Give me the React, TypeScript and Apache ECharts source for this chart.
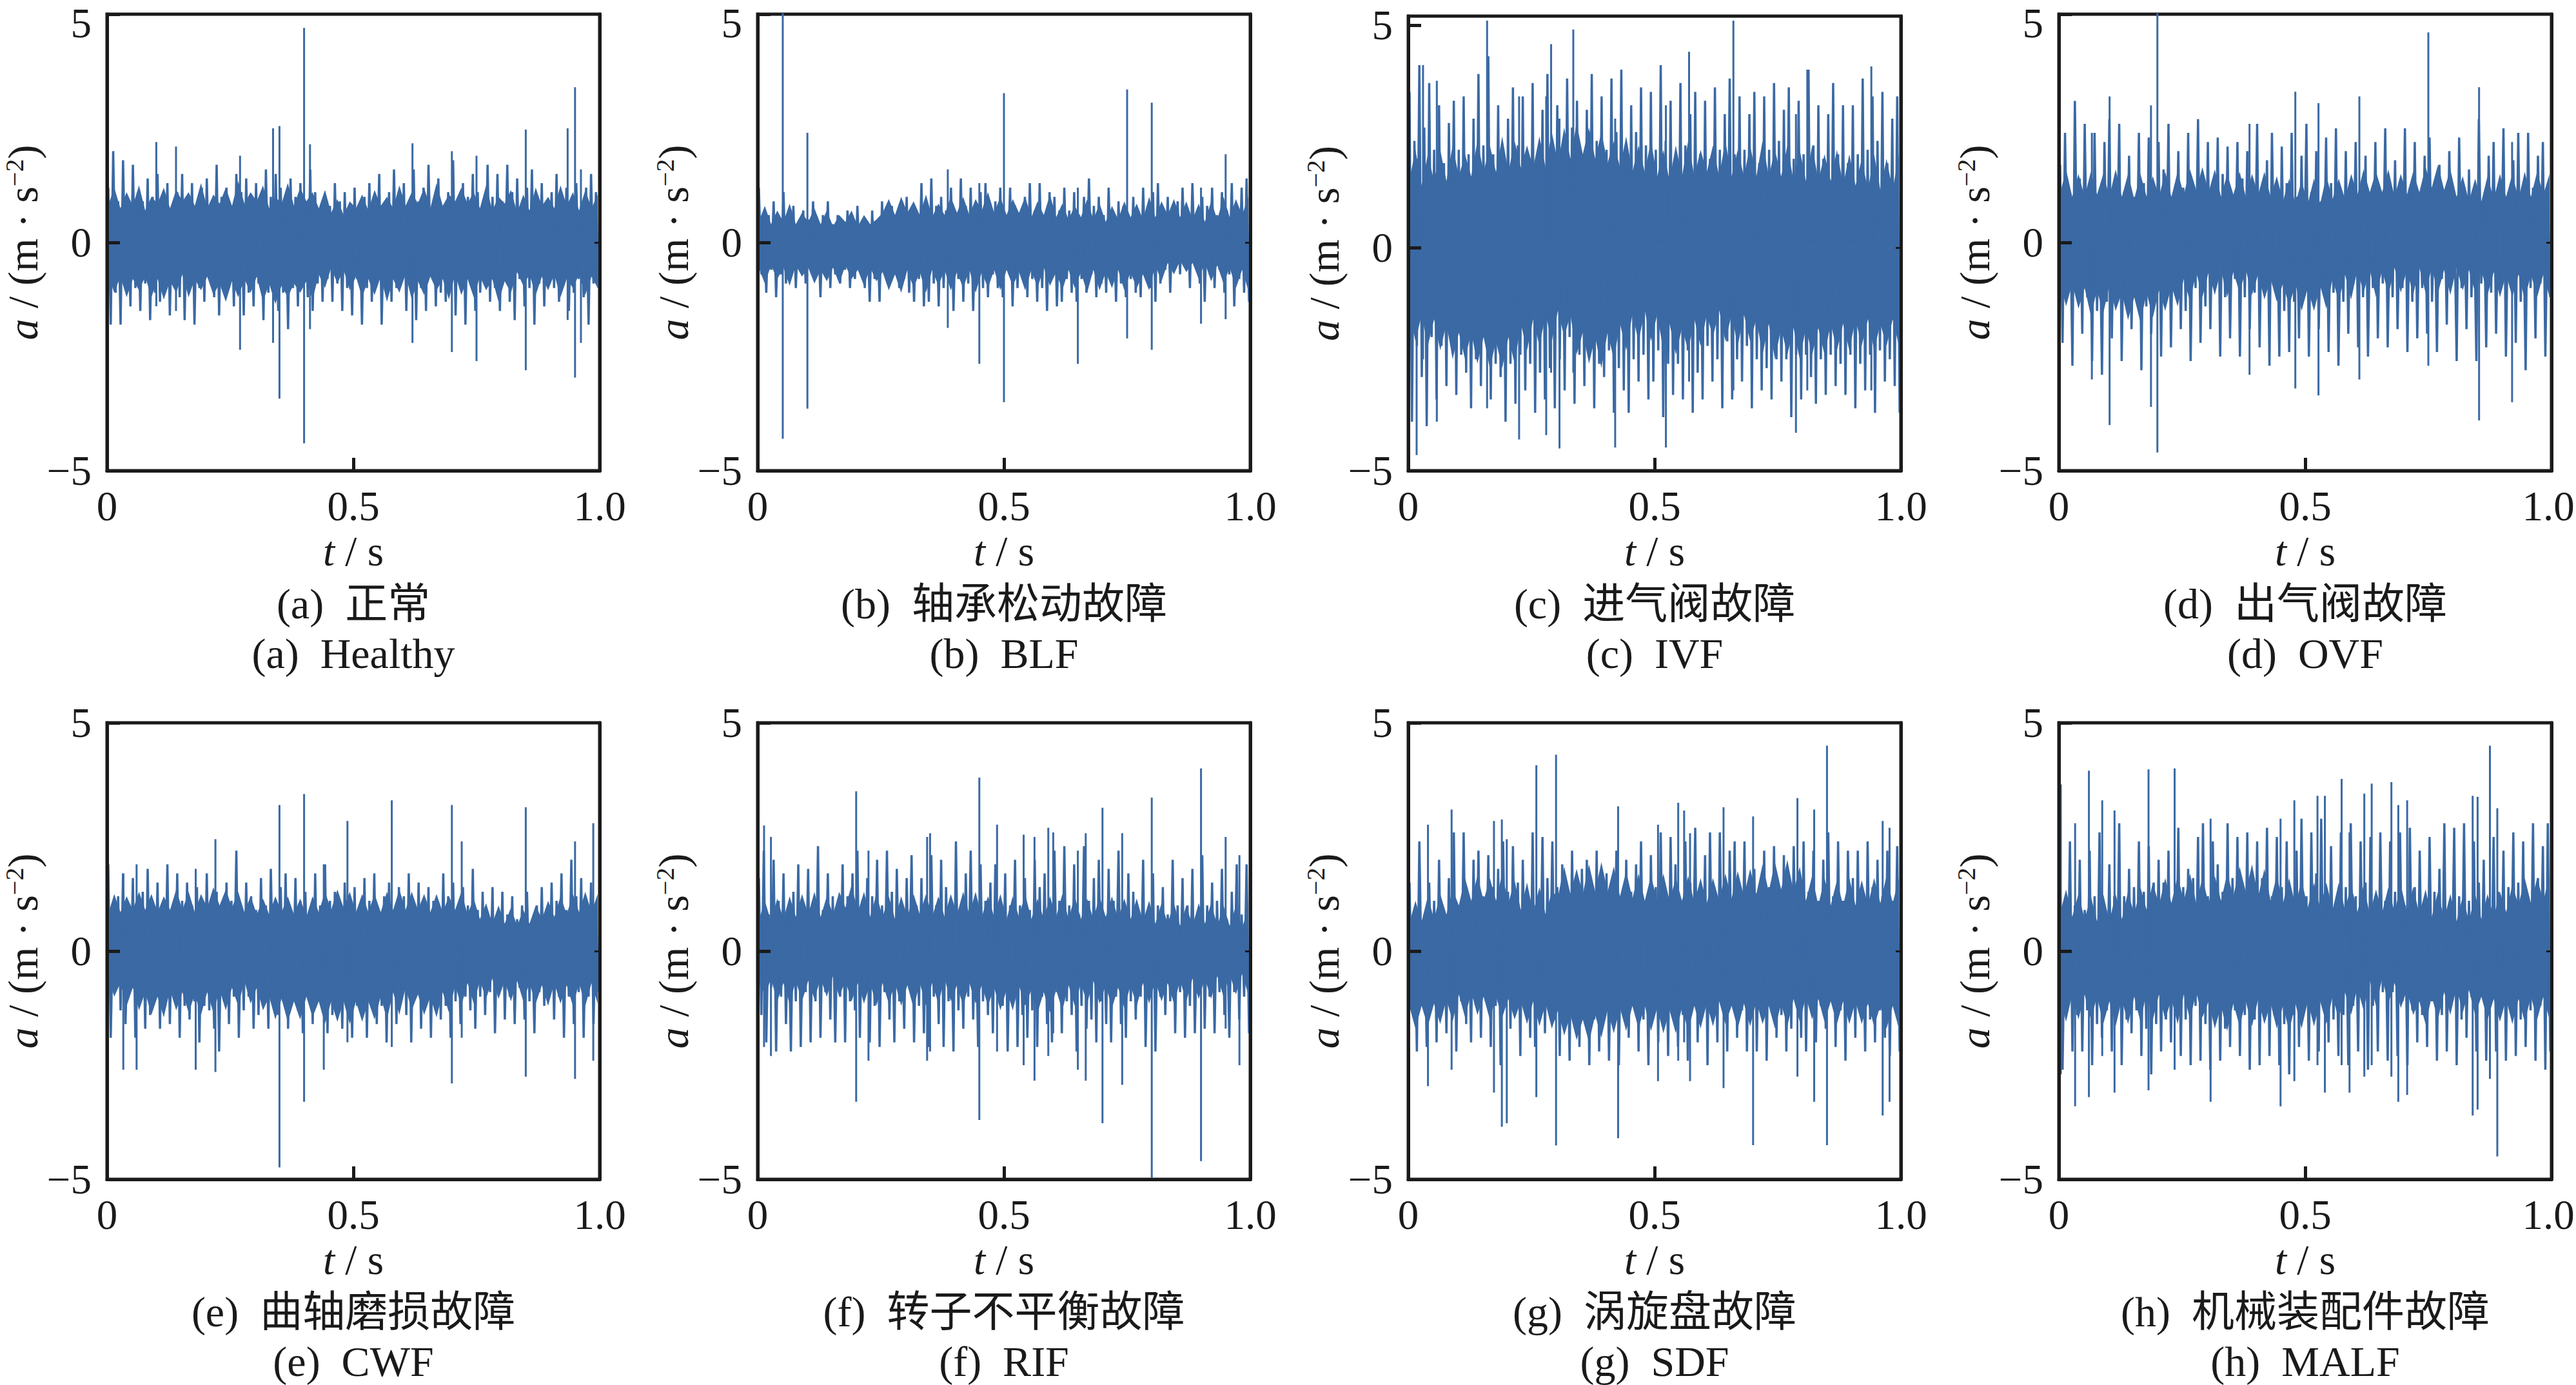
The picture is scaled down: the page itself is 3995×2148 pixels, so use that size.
import React, { useEffect, useRef } from "react";
import * as echarts from "echarts";

const BLUE = "#3a69a4";
const INK = "#1a1a1a";
const LATIN = "Liberation Serif";
const CJK = "Noto Sans CJK SC";

const titlesZh = ["(a)  正常", "(b)  轴承松动故障", "(c)  进气阀故障", "(d)  出气阀故障", "(e)  曲轴磨损故障", "(f)  转子不平衡故障", "(g)  涡旋盘故障", "(h)  机械装配件故障"];
const titlesEn = ["(a)  Healthy", "(b)  BLF", "(c)  IVF", "(d)  OVF", "(e)  CWF", "(f)  RIF", "(g)  SDF", "(h)  MALF"];
const xTicks = [0, 0.5, 1];
const yTicks = [-5, 0, 5];

// upper and lower envelope of each vibration trace, read left to right (m/s^2)
const aHi = [1.2,2.0,0.9,1.8,0.8,1.7,1.1,0.9,1.4,1.0,1.5,0.9,1.3,0.8,1.1,1.5,1.0,1.3,0.8,1.2,1.4,0.9,1.7,1.0,1.2,0.8,1.5,1.1,1.4,0.8,1.3,0.9,1.6,1.0,1.5,1.2,0.8,1.4,1.0,1.3,0.9,1.6,1.1,0.7,1.0,0.8,1.3,0.9,1.1,0.7,1.2,0.8,1.0,1.3,0.8,1.5,0.7,1.1,1.6,1.0,1.3,0.8,1.6,0.9,1.2,1.7,0.9,1.4,0.8,1.1,1.8,0.9,1.3,1.0,1.5,1.1,0.8,1.7,1.0,1.5,0.9,1.7,1.1,1.4,0.9,1.2,1.6,1.0,1.3,0.8,1.1,1.5,0.8,1.2,0.9,1.3,0.8,1.2,1.5,1.1];
const aLo = [-1.8,-1.1,-1.8,-0.9,-1.4,-1.0,-1.5,-0.9,-1.7,-1.1,-1.3,-0.8,-1.6,-1.0,-1.2,-1.7,-0.9,-1.8,-1.0,-1.3,-0.8,-1.2,-1.6,-0.9,-1.0,-1.4,-0.8,-1.6,-1.1,-1.4,-0.9,-1.7,-1.1,-1.0,-1.5,-1.1,-1.9,-1.0,-1.4,-0.8,-1.2,-1.5,-0.9,-1.3,-0.8,-1.3,-0.9,-1.5,-1.0,-1.6,-0.8,-1.8,-1.0,-1.3,-0.8,-1.8,-0.9,-1.3,-1.0,-0.8,-1.5,-0.9,-1.7,-1.0,-1.5,-0.7,-1.4,-1.1,-1.3,-0.8,-1.6,-1.0,-1.8,-0.8,-1.5,-1.1,-0.9,-1.3,-1.0,-1.5,-0.7,-1.3,-1.7,-0.8,-1.4,-1.0,-1.8,-0.9,-1.4,-0.7,-1.0,-1.3,-0.8,-1.5,-1.1,-0.8,-1.2,-1.8,-0.9,-1.0];
const aCoreHi = [0.8,1.2,0.75,1.1,0.8,1.25,0.7,1.0,0.85,1.2,0.75,1.15,0.9,1.1,0.8,1.3,0.75,1.05,0.85,1.2,0.8,1.35,0.85,1.1,0.9,1.25,0.75,1.0,0.85,1.3,0.8,1.2,0.9,1.1,0.75,1.15,0.65,0.95,0.6,0.9,0.75,1.05,0.7,1.15,0.8,1.0,0.75,1.25,0.8,1.1,0.85,1.2,0.75,1.3,0.8,1.05,0.9,1.2,0.85,1.1,0.75,1.25,0.7,1.0,0.85,1.15,0.65,1.05,0.7,1.2,0.8,1.0,0.75,1.25,0.8,1.1,0.7,1.15,0.75,1.05];
const aCoreLo = [-0.7,-1.1,-0.75,-1.2,-0.8,-1.05,-0.75,-1.2,-0.8,-1.25,-0.85,-1.1,-0.7,-1.2,-0.8,-1.05,-0.75,-1.15,-0.9,-1.3,-0.85,-1.2,-0.8,-1.1,-0.75,-1.3,-0.9,-1.35,-0.95,-1.2,-0.9,-1.1,-0.85,-1.25,-0.7,-1.0,-0.55,-0.9,-0.6,-1.05,-0.75,-1.2,-0.8,-1.15,-0.75,-1.3,-0.8,-1.1,-0.7,-1.25,-0.85,-1.15,-0.75,-1.05,-0.8,-1.25,-0.7,-1.15,-0.8,-1.2,-0.75,-1.05,-0.8,-1.3,-0.85,-1.1,-0.65,-0.95,-0.7,-1.15,-0.75,-1.05,-0.7,-1.2,-0.8,-1.0,-0.7,-1.15,-0.75,-1.0];
const aSpikes = [[0.1,2.2,-1.4],[0.14,2.1,-1.5],[0.27,1.9,-2.35],[0.337,2.5,-2.2],[0.35,2.55,-3.42],[0.4,4.7,-4.4],[0.412,2.15,-1.9],[0.62,2.17,-2.2],[0.7,2.0,-2.4],[0.75,1.9,-2.6],[0.85,2.47,-2.8],[0.935,2.5,-1.7],[0.95,3.4,-2.96],[0.962,1.6,-2.2]];

const bHi = [1.2,0.5,0.6,0.9,0.4,1.1,0.5,0.8,0.4,0.7,0.5,0.9,0.4,0.6,0.9,0.4,0.6,0.4,0.7,0.4,0.8,0.5,0.4,0.7,0.4,0.9,0.5,0.8,0.4,0.7,1.0,0.5,0.6,1.3,0.8,1.4,0.8,1.0,0.7,1.2,0.6,1.4,0.8,1.2,0.6,1.1,1.3,0.7,0.9,1.2,0.6,1.2,0.8,0.6,1.0,1.3,0.7,1.3,0.6,1.1,1.0,0.7,1.2,0.7,1.1,0.6,1.0,1.4,0.8,1.0,0.6,1.2,0.6,0.9,0.8,0.6,1.0,0.7,1.2,0.6,1.1,1.3,0.7,1.0,0.6,0.9,1.2,0.7,1.3,0.6,1.0,0.8,1.2,0.6,1.1,0.7,1.3,0.8,1.2,1.4];
const bLo = [-0.7,-1.1,-0.6,-1.2,-0.7,-0.9,-0.5,-1.0,-0.6,-0.9,-0.6,-0.7,-1.2,-0.6,-1.0,-0.7,-0.9,-0.6,-1.0,-0.8,-0.6,-1.0,-1.3,-0.8,-1.3,-0.6,-0.9,-0.7,-1.0,-0.8,-1.1,-1.3,-0.8,-1.4,-1.3,-0.9,-1.4,-1.0,-0.7,-1.5,-0.8,-1.3,-0.9,-1.5,-0.7,-1.0,-1.2,-0.7,-1.0,-1.2,-0.6,-1.4,-1.0,-0.7,-1.2,-0.8,-1.3,-1.0,-1.5,-0.7,-1.4,-1.3,-0.8,-1.1,-1.3,-0.8,-1.1,-0.7,-1.2,-0.9,-1.1,-0.8,-1.3,-0.9,-1.2,-0.8,-1.1,-1.2,-0.7,-1.0,-1.3,-0.9,-0.6,-1.1,-0.5,-0.7,-0.4,-1.0,-0.5,-0.9,-1.3,-0.7,-1.0,-0.6,-1.1,-0.7,-1.4,-0.8,-1.1,-1.3];
const bCoreHi = [0.45,0.8,0.4,0.7,0.45,0.85,0.4,0.65,0.45,0.75,0.4,0.7,0.35,0.6,0.45,0.7,0.35,0.6,0.4,0.5,0.65,0.95,0.6,1.0,0.65,0.9,0.6,1.05,0.55,0.85,0.6,1.0,0.65,1.0,0.6,0.95,0.7,1.1,0.65,1.0,0.6,0.95,0.65,1.0,0.55,0.9,0.6,1.05,0.55,0.85,0.5,0.8,0.55,0.95,0.5,0.85,0.45,0.8,0.5,0.9,0.55,0.85,0.5,1.0,0.55,0.9,0.6,0.95,0.55,0.9,0.5,0.85,0.45,0.9,0.5,1.0,0.55,0.95,0.6,1.0];
const bCoreLo = [-0.55,-0.9,-0.5,-0.8,-0.55,-0.95,-0.5,-0.75,-0.55,-0.9,-0.6,-0.85,-0.55,-0.9,-0.5,-0.8,-0.6,-0.95,-0.55,-0.85,-0.65,-1.05,-0.7,-1.1,-0.6,-1.0,-0.65,-1.1,-0.6,-0.95,-0.6,-1.05,-0.65,-1.0,-0.6,-1.1,-0.65,-1.0,-0.6,-1.05,-0.6,-0.95,-0.65,-1.05,-0.6,-1.0,-0.55,-0.95,-0.65,-1.05,-0.6,-1.0,-0.65,-1.1,-0.6,-1.05,-0.65,-1.0,-0.6,-1.05,-0.65,-1.0,-0.7,-1.05,-0.5,-0.85,-0.45,-0.7,-0.4,-0.65,-0.45,-0.8,-0.45,-0.85,-0.5,-0.9,-0.55,-1.0,-0.6,-1.05];
const bSpikes = [[0.051,5.2,-4.3],[0.101,2.4,-3.64],[0.386,1.6,-1.87],[0.45,1.3,-2.66],[0.5,3.27,-3.5],[0.65,1.2,-2.66],[0.75,3.35,-2.1],[0.8,3.06,-2.35],[0.9,1.2,-1.78],[0.95,1.93,-1.68]];

const cHi = [3.5,2.4,4.1,2.7,3.7,2.2,3.2,1.9,2.8,3.3,2.2,3.4,2.1,2.9,3.9,2.3,4.3,2.1,3.2,1.9,2.9,3.6,2.3,3.4,2.1,3.7,2.0,3.1,3.9,2.4,3.2,2.2,3.8,2.7,3.3,2.1,3.1,3.9,2.4,3.4,2.2,3.8,2.6,4.0,2.3,3.2,2.6,3.6,2.3,3.5,2.2,4.1,2.4,3.3,2.1,3.7,2.3,3.0,3.5,2.1,3.3,2.0,3.6,2.2,3.0,3.8,2.1,3.4,2.2,3.0,3.5,1.9,3.4,2.2,3.7,2.4,3.1,3.6,2.0,3.3,2.1,4.0,2.3,3.2,2.0,3.0,3.7,2.1,3.2,1.9,3.2,2.1,3.8,2.2,3.4,2.4,3.5,1.9,2.9,3.4];
const cLo = [-3.9,-2.2,-2.9,-4.0,-2.0,-3.4,-2.2,-3.1,-2.0,-3.3,-2.4,-2.8,-3.6,-2.5,-3.1,-2.0,-3.4,-2.6,-2.9,-3.9,-2.6,-3.5,-2.4,-3.2,-2.6,-3.7,-2.8,-3.4,-2.7,-3.6,-2.5,-3.2,-2.0,-3.5,-2.4,-3.1,-2.4,-3.6,-2.6,-2.9,-2.3,-3.7,-2.7,-3.2,-3.7,-2.5,-3.0,-2.4,-3.4,-3.0,-2.3,-3.8,-2.6,-3.3,-2.6,-3.4,-2.3,-3.7,-2.8,-3.4,-2.2,-3.0,-2.5,-3.6,-2.1,-3.4,-2.5,-3.0,-2.2,-3.6,-2.5,-3.2,-2.7,-3.4,-2.5,-3.0,-2.5,-3.8,-2.4,-3.4,-2.4,-2.9,-3.5,-2.5,-3.3,-2.4,-3.1,-2.6,-3.3,-2.4,-3.6,-2.6,-3.2,-2.4,-3.7,-2.3,-3.0,-2.5,-3.1,-3.7];
const cCoreHi = [1.5,2.2,1.4,2.1,1.5,2.2,1.5,2.3,1.6,2.1,1.6,2.4,1.7,2.3,1.7,2.5,1.7,2.4,1.8,2.3,1.8,2.5,1.8,2.6,1.9,2.7,2.0,2.8,2.1,2.7,2.0,2.6,1.9,2.4,1.8,2.5,1.7,2.3,1.7,2.4,1.6,2.2,1.5,2.3,1.6,2.4,1.6,2.2,1.7,2.3,1.6,2.4,1.6,2.2,1.6,2.3,1.6,2.4,1.6,2.2,1.6,2.3,1.5,2.2,1.5,2.3,1.5,2.1,1.5,2.2,1.4,2.1,1.4,2.0,1.3,2.1,1.3,2.0,1.3,2.1];
const cCoreLo = [-1.4,-2.1,-1.5,-2.2,-1.6,-2.3,-1.7,-2.5,-1.9,-2.5,-1.9,-2.6,-2.0,-2.7,-2.1,-2.7,-2.0,-2.6,-1.7,-2.3,-1.6,-2.2,-1.5,-2.1,-1.4,-2.0,-1.5,-2.4,-1.9,-2.6,-2.0,-2.7,-1.9,-2.5,-1.7,-2.3,-1.5,-2.1,-1.4,-2.1,-1.5,-2.3,-1.7,-2.4,-1.8,-2.3,-1.6,-2.2,-1.5,-2.0,-1.4,-2.1,-1.5,-2.2,-1.5,-2.1,-1.6,-2.4,-1.7,-2.5,-1.8,-2.4,-1.8,-2.5,-1.8,-2.4,-1.8,-2.4,-1.7,-2.3,-1.7,-2.3,-1.6,-2.2,-1.6,-2.3,-1.7,-2.2,-1.6,-2.2];
const cSpikes = [[0.017,2.0,-4.65],[0.03,4.1,-2.5],[0.058,3.75,-3.9],[0.16,5.1,-3.6],[0.225,3.4,-4.3],[0.28,3.4,-4.2],[0.29,4.57,-2.8],[0.307,2.9,-4.5],[0.335,4.9,-2.8],[0.42,2.9,-4.48],[0.523,3.2,-4.48],[0.57,4.4,-3.0],[0.66,5.1,-3.2],[0.787,3.0,-4.15],[0.81,4.0,-3.2],[0.94,4.07,-3.2]];

const dHi = [1.7,2.4,1.1,3.1,1.4,2.6,1.2,2.4,1.0,2.2,2.7,1.2,2.6,1.1,1.9,1.0,2.4,1.3,2.3,1.1,2.2,1.6,2.6,1.0,2.0,1.2,2.4,1.3,2.7,1.1,2.2,1.0,2.3,1.5,2.1,0.9,2.2,1.4,2.0,1.0,2.6,1.1,1.8,2.4,1.0,2.1,1.3,2.4,1.0,1.9,2.6,1.1,2.0,0.9,2.3,1.3,2.5,0.8,2.0,1.0,2.2,1.2,1.9,0.9,2.2,1.1,2.5,1.0,1.8,0.9,2.5,1.2,2.2,1.0,1.9,2.3,0.9,1.7,1.1,2.0,0.8,2.3,1.0,1.6,0.9,2.7,1.0,1.9,2.2,0.9,2.5,1.1,1.8,2.4,0.9,2.4,1.2,1.9,2.2,1.1];
const dLo = [-2.2,-1.0,-2.7,-1.2,-2.0,-1.2,-2.6,-1.5,-2.9,-1.3,-2.1,-1.0,-2.6,-1.3,-1.9,-1.1,-2.8,-1.4,-2.0,-1.3,-2.5,-1.2,-2.3,-0.9,-1.9,-1.5,-2.6,-1.0,-2.2,-1.4,-1.9,-0.9,-2.5,-1.2,-2.1,-0.8,-2.5,-1.2,-1.9,-1.1,-2.3,-1.0,-2.7,-0.9,-2.5,-1.5,-2.4,-1.3,-2.1,-1.0,-2.5,-1.4,-1.9,-1.1,-2.4,-1.1,-2.7,-1.3,-2.0,-0.9,-2.3,-1.2,-2.5,-1.0,-2.1,-0.9,-2.3,-1.2,-1.9,-1.0,-2.4,-1.3,-2.1,-1.0,-2.0,-1.3,-2.4,-0.8,-1.8,-0.8,-2.6,-1.0,-1.9,-1.2,-2.6,-0.9,-2.3,-1.1,-2.0,-0.9,-2.5,-1.0,-2.2,-1.3,-2.8,-1.0,-2.1,-0.9,-2.5,-1.2];
const dCoreHi = [1.05,1.6,1.0,1.5,1.0,1.55,1.05,1.5,1.0,1.6,1.0,1.5,0.95,1.5,1.0,1.45,1.0,1.55,1.0,1.55,1.05,1.6,1.15,1.65,1.1,1.6,1.0,1.5,1.05,1.55,1.0,1.5,1.05,1.55,1.0,1.45,0.9,1.4,0.85,1.35,0.85,1.4,0.85,1.45,0.95,1.4,0.95,1.5,1.05,1.6,1.1,1.55,1.1,1.6,1.0,1.5,1.05,1.55,1.1,1.65,1.2,1.7,1.15,1.6,1.0,1.45,0.9,1.4,0.9,1.45,0.95,1.5,1.0,1.5,0.95,1.55,1.0,1.55,1.05,1.5];
const dCoreLo = [-0.85,-1.4,-0.9,-1.45,-1.0,-1.6,-1.05,-1.55,-0.95,-1.5,-1.1,-1.7,-1.2,-1.75,-1.1,-1.65,-1.05,-1.5,-0.95,-1.4,-0.8,-1.3,-0.65,-1.2,-0.65,-1.15,-0.6,-1.2,-0.65,-1.1,-0.6,-1.15,-0.7,-1.25,-0.8,-1.3,-0.9,-1.4,-0.9,-1.5,-1.0,-1.5,-0.95,-1.45,-0.8,-1.3,-0.7,-1.25,-0.6,-1.1,-0.6,-1.2,-0.6,-1.15,-0.55,-1.1,-0.6,-1.15,-0.55,-1.1,-0.55,-1.1,-0.6,-1.15,-0.55,-1.05,-0.6,-1.1,-0.6,-1.15,-0.65,-1.2,-0.7,-1.2,-0.7,-1.25,-0.7,-1.2,-0.7,-1.2];
const dSpikes = [[0.067,2.4,-3.0],[0.103,3.2,-4.0],[0.187,3.0,-3.6],[0.2,5.2,-4.6],[0.387,2.6,-2.9],[0.48,3.3,-3.2],[0.527,3.05,-3.35],[0.61,3.2,-3.0],[0.75,4.6,-2.7],[0.853,3.4,-3.9],[0.92,2.2,-3.5]];

const eHi = [1.9,0.9,1.2,1.7,0.7,1.6,1.0,1.3,1.8,0.8,1.5,0.9,1.9,0.8,1.7,1.1,1.5,1.0,1.4,0.9,1.7,1.0,1.3,0.8,1.5,1.1,2.2,0.9,1.5,1.2,0.9,1.6,1.0,1.8,1.1,1.4,1.7,0.9,1.6,1.1,1.3,0.8,1.7,1.0,1.9,1.1,1.3,0.9,1.5,1.0,1.4,0.8,1.6,1.1,1.7,0.8,1.2,1.5,0.8,1.4,1.2,1.7,0.9,1.5,1.0,1.4,1.1,0.8,1.7,1.2,1.5,0.9,1.4,1.0,1.8,0.9,1.3,0.8,1.4,0.7,1.3,0.8,1.2,0.7,1.0,1.3,0.6,1.0,1.4,0.9,1.5,1.1,1.7,0.9,2.0,1.2,1.6,0.9,1.5,1.0];
const eLo = [-1.9,-0.7,-1.3,-1.6,-0.8,-1.9,-1.0,-1.7,-1.4,-0.9,-1.7,-1.0,-1.6,-1.1,-1.9,-1.2,-1.5,-1.1,-2.0,-1.2,-1.3,-1.7,-2.2,-1.1,-1.6,-1.0,-1.9,-1.3,-1.0,-1.7,-1.4,-1.0,-1.7,-0.9,-1.4,-1.1,-1.7,-0.9,-1.3,-1.8,-0.9,-1.6,-1.0,-1.2,-1.8,-1.4,-1.1,-1.7,-1.1,-1.9,-1.2,-1.4,-1.9,-1.0,-1.6,-1.2,-2.0,-1.1,-1.6,-1.0,-1.4,-2.0,-1.0,-1.7,-1.2,-1.9,-1.0,-1.5,-1.2,-1.9,-1.1,-1.6,-1.0,-1.3,-1.7,-1.0,-1.4,-0.9,-1.8,-0.8,-1.5,-1.0,-1.6,-0.8,-1.5,-1.1,-1.8,-0.9,-1.2,-0.8,-1.5,-1.0,-1.9,-1.0,-1.6,-0.9,-1.9,-1.0,-1.6,-0.9];
const eCoreHi = [0.8,1.25,0.85,1.2,0.9,1.3,0.9,1.25,0.85,1.2,0.9,1.35,0.9,1.3,0.85,1.25,0.95,1.4,1.0,1.35,0.95,1.3,0.85,1.2,0.8,1.15,0.8,1.2,0.85,1.2,0.8,1.15,0.75,1.2,0.85,1.3,0.9,1.35,0.95,1.3,0.85,1.25,0.85,1.25,0.85,1.3,0.9,1.35,0.9,1.3,0.9,1.25,0.85,1.25,0.85,1.2,0.9,1.3,0.8,1.15,0.7,1.05,0.6,1.0,0.6,0.95,0.55,0.9,0.6,1.0,0.7,1.1,0.75,1.2,0.8,1.25,0.85,1.3,0.85,1.25];
const eCoreLo = [-0.55,-1.0,-0.7,-1.2,-0.8,-1.3,-0.9,-1.4,-1.0,-1.45,-0.85,-1.3,-0.9,-1.35,-0.95,-1.4,-0.9,-1.35,-0.85,-1.3,-0.8,-1.2,-0.65,-1.15,-0.8,-1.3,-1.0,-1.5,-1.05,-1.55,-1.1,-1.5,-1.0,-1.45,-1.1,-1.6,-1.1,-1.55,-1.1,-1.6,-1.1,-1.55,-1.1,-1.5,-1.0,-1.5,-0.9,-1.4,-0.8,-1.3,-0.95,-1.4,-1.0,-1.45,-0.9,-1.35,-0.75,-1.2,-0.7,-1.15,-0.65,-1.05,-0.6,-1.05,-0.65,-1.1,-0.65,-1.1,-0.7,-1.15,-0.75,-1.2,-0.7,-1.15,-0.75,-1.2,-0.7,-1.2,-0.7,-1.15];
const eSpikes = [[0.033,1.7,-2.6],[0.06,1.9,-2.6],[0.18,1.8,-2.6],[0.22,2.45,-2.65],[0.35,3.2,-4.74],[0.4,3.44,-3.3],[0.44,1.9,-2.6],[0.488,2.85,-2.0],[0.578,3.3,-2.1],[0.7,3.2,-2.9],[0.72,2.4,-1.9],[0.85,3.15,-2.75],[0.95,2.4,-2.8],[0.987,2.8,-2.4]];

const fHi = [1.6,2.2,0.8,2.0,1.1,1.7,0.8,1.3,1.9,0.9,1.8,1.1,2.3,0.9,1.7,1.2,0.9,1.9,1.2,1.7,2.2,1.1,1.6,1.2,2.0,1.0,2.2,1.3,1.8,0.9,1.6,2.1,1.0,1.6,1.1,2.1,1.0,2.0,1.4,1.0,2.4,0.9,1.7,2.2,1.0,1.9,1.1,1.5,1.9,0.9,1.7,1.0,2.0,1.0,1.6,0.9,2.0,1.4,1.7,0.9,2.2,1.1,2.3,1.0,1.9,0.8,2.3,1.1,1.6,2.0,0.8,1.8,1.1,2.2,0.9,1.7,1.3,0.9,2.0,0.9,1.7,1.0,1.4,0.8,2.0,1.0,1.6,1.0,1.8,0.7,2.1,1.0,1.5,1.1,1.8,0.7,1.3,1.9,0.8,1.9];
const fLo = [-1.4,-2.0,-0.8,-2.2,-1.0,-1.6,-2.2,-1.1,-2.1,-0.9,-2.0,-1.1,-1.9,-0.9,-1.5,-2.0,-1.0,-2.0,-1.1,-1.3,-1.9,-1.0,-2.0,-1.2,-2.1,-0.9,-1.5,-2.0,-1.1,-1.7,-0.8,-2.0,-1.2,-1.8,-2.1,-1.0,-1.6,-2.1,-1.1,-2.2,-1.3,-1.7,-1.0,-1.5,-2.1,-1.1,-1.4,-1.8,-1.0,-1.2,-2.2,-1.0,-2.1,-1.4,-1.9,-1.3,-2.1,-1.0,-1.6,-2.0,-0.9,-1.8,-1.1,-1.4,-2.2,-1.2,-1.7,-1.5,-2.0,-1.1,-1.6,-2.0,-1.0,-1.6,-1.9,-1.1,-1.5,-1.0,-2.1,-1.0,-2.2,-1.0,-1.4,-1.1,-1.8,-0.9,-1.9,-1.2,-1.8,-0.9,-1.7,-1.0,-1.8,-0.9,-1.4,-1.9,-0.9,-1.5,-1.0,-1.8];
const fCoreHi = [0.65,1.1,0.65,1.15,0.7,1.2,0.75,1.25,0.8,1.3,0.75,1.2,0.8,1.3,0.95,1.45,0.85,1.3,0.75,1.25,0.75,1.2,0.7,1.2,0.75,1.25,0.8,1.25,0.75,1.2,0.75,1.25,0.8,1.3,0.8,1.3,0.75,1.2,0.75,1.25,0.7,1.2,0.75,1.25,0.7,1.15,0.7,1.2,0.75,1.25,0.7,1.2,0.7,1.15,0.7,1.2,0.75,1.2,0.7,1.15,0.7,1.15,0.65,1.1,0.6,1.05,0.6,1.05,0.55,1.0,0.55,1.05,0.6,1.05,0.55,1.0,0.55,1.0,0.5,0.95];
const fCoreLo = [-0.55,-1.0,-0.6,-1.1,-0.7,-1.15,-0.65,-1.1,-0.65,-1.05,-0.6,-1.0,-0.55,-1.0,-0.65,-1.1,-0.7,-1.15,-0.7,-1.2,-0.7,-1.15,-0.7,-1.2,-0.75,-1.25,-0.7,-1.2,-0.7,-1.15,-0.6,-1.1,-0.75,-1.2,-0.7,-1.15,-0.75,-1.2,-0.8,-1.3,-0.85,-1.3,-0.75,-1.2,-0.85,-1.35,-0.9,-1.35,-0.85,-1.3,-0.75,-1.2,-0.7,-1.15,-0.65,-1.15,-0.75,-1.25,-0.8,-1.25,-0.75,-1.2,-0.7,-1.15,-0.65,-1.1,-0.7,-1.15,-0.65,-1.1,-0.6,-1.05,-0.6,-1.05,-0.55,-1.0,-0.5,-0.95,-0.5,-0.95];
const fSpikes = [[0.013,2.75,-2.1],[0.027,2.5,-2.3],[0.2,3.5,-3.3],[0.225,2.2,-2.4],[0.344,2.5,-2.4],[0.35,2.58,-2.2],[0.45,3.8,-3.7],[0.486,2.77,-2.2],[0.54,2.55,-2.5],[0.562,2.5,-2.84],[0.59,2.7,-2.3],[0.6,2.6,-1.8],[0.65,2.2,-2.6],[0.666,2.58,-2.84],[0.7,3.14,-3.77],[0.74,2.58,-2.93],[0.8,3.36,-5.2],[0.9,4.0,-4.6],[0.95,2.5,-1.7],[0.978,2.1,-2.5]];

const gHi = [1.5,0.8,2.4,0.8,1.5,1.1,2.0,0.9,1.6,2.6,0.9,2.6,1.0,2.0,2.2,1.2,2.1,1.4,1.8,2.4,1.3,2.3,1.5,2.0,1.3,2.6,1.1,2.5,1.6,2.4,1.4,1.9,1.2,2.2,1.3,1.8,2.0,1.1,2.2,0.8,1.7,0.9,2.2,1.1,2.0,1.3,1.9,2.4,1.1,2.1,1.4,2.6,1.3,2.5,1.9,1.1,2.4,1.5,2.7,1.4,2.1,2.6,1.2,2.6,1.6,2.2,2.4,1.2,2.4,1.3,1.8,1.2,2.2,1.4,2.3,1.2,2.1,1.4,2.3,1.2,2.4,1.3,2.2,1.1,2.0,2.6,1.2,2.4,1.1,2.2,1.6,2.2,1.1,2.4,1.4,2.0,1.2,2.2,1.1,2.3];
const gLo = [-1.3,-2.2,-0.9,-2.1,-1.2,-2.0,-1.2,-1.8,-1.3,-2.2,-1.1,-1.6,-2.0,-1.2,-1.9,-1.1,-2.1,-1.2,-2.5,-1.1,-1.7,-1.2,-2.3,-1.1,-1.9,-2.1,-1.0,-1.8,-1.1,-1.5,-2.3,-1.3,-2.4,-1.5,-2.1,-1.3,-2.5,-1.5,-2.2,-1.2,-2.4,-1.4,-2.5,-1.3,-1.9,-1.2,-2.2,-1.5,-2.5,-1.2,-2.0,-1.4,-2.3,-1.2,-2.1,-1.4,-2.4,-1.1,-2.0,-1.2,-2.5,-1.2,-2.0,-1.1,-2.2,-1.1,-1.9,-1.3,-2.2,-1.4,-2.2,-1.1,-2.4,-1.3,-1.9,-1.4,-2.2,-1.7,-1.1,-1.9,-2.2,-1.0,-2.0,-1.2,-1.7,-1.1,-2.1,-1.3,-2.4,-1.0,-1.9,-1.3,-2.2,-1.5,-2.0,-1.3,-1.9,-2.3,-1.2,-2.2];
const gCoreHi = [0.6,1.1,0.65,1.2,0.7,1.25,0.8,1.35,1.0,1.6,1.1,1.65,1.1,1.6,1.1,1.7,1.05,1.55,0.9,1.5,0.85,1.4,0.8,1.3,1.2,1.85,1.25,1.8,1.25,1.9,1.3,1.95,1.3,1.85,1.2,1.75,1.15,1.7,1.1,1.65,1.1,1.7,1.1,1.6,1.1,1.65,1.05,1.6,1.05,1.6,1.1,1.7,1.15,1.75,1.2,1.8,1.25,1.9,1.3,1.95,1.35,2.0,1.3,1.85,1.1,1.65,1.0,1.6,1.0,1.55,1.0,1.6,1.0,1.55,1.0,1.6,1.05,1.65,1.05,1.6];
const gCoreLo = [-1.2,-1.7,-1.2,-1.65,-1.15,-1.6,-1.05,-1.55,-0.95,-1.45,-0.9,-1.4,-1.0,-1.5,-1.0,-1.45,-1.05,-1.5,-1.1,-1.6,-1.1,-1.65,-1.15,-1.7,-1.3,-1.85,-1.4,-1.95,-1.5,-2.0,-1.4,-1.9,-1.3,-1.8,-1.25,-1.75,-1.2,-1.7,-1.2,-1.75,-1.25,-1.8,-1.3,-1.8,-1.25,-1.75,-1.2,-1.7,-1.15,-1.65,-1.1,-1.6,-1.2,-1.7,-1.15,-1.65,-1.1,-1.6,-1.2,-1.7,-1.15,-1.65,-1.05,-1.55,-1.0,-1.5,-1.05,-1.55,-1.1,-1.6,-1.1,-1.6,-1.1,-1.6,-1.15,-1.65,-1.2,-1.7,-1.2,-1.7];
const gSpikes = [[0.04,2.77,-2.96],[0.088,3.1,-2.6],[0.174,2.85,-3.1],[0.19,2.88,-3.85],[0.2,2.45,-3.77],[0.26,4.07,-3.2],[0.3,4.3,-4.26],[0.426,3.17,-4.1],[0.507,2.77,-2.85],[0.548,3.25,-2.4],[0.56,3.08,-2.0],[0.572,2.58,-2.85],[0.64,3.15,-3.0],[0.7,2.95,-4.25],[0.79,3.35,-2.75],[0.824,3.1,-3.3],[0.85,4.5,-4.25],[0.963,2.85,-3.6],[0.977,2.7,-3.3]];

const hHi = [1.8,1.1,2.4,1.0,2.0,0.9,2.2,1.2,2.6,1.0,1.9,1.2,2.8,1.2,1.8,1.4,2.4,1.3,2.3,1.5,2.0,1.5,2.2,1.0,2.7,1.4,1.8,1.6,2.5,2.8,1.2,2.4,1.9,1.3,2.8,1.6,2.5,1.2,2.6,1.4,2.4,1.6,2.7,1.2,2.5,1.4,2.4,1.2,2.2,2.9,1.2,2.6,1.7,2.9,1.2,2.3,1.1,2.6,1.4,2.8,1.2,2.4,1.5,2.5,1.1,2.6,1.1,2.4,1.3,2.6,1.0,2.7,1.4,2.2,1.1,2.5,1.3,1.8,2.8,1.0,2.7,1.2,2.8,1.1,2.4,1.5,2.0,1.0,2.5,1.3,2.2,1.4,2.6,1.5,2.4,1.2,2.8,1.6,2.3,2.8];
const hLo = [-2.6,-1.3,-2.2,-1.4,-2.2,-1.3,-2.5,-1.6,-1.9,-1.3,-2.2,-1.4,-2.5,-1.5,-1.8,-1.3,-2.3,-1.7,-2.7,-1.6,-2.2,-1.5,-2.0,-1.4,-2.3,-1.5,-2.5,-1.2,-2.4,-1.6,-2.6,-1.3,-2.4,-1.7,-2.1,-1.3,-2.3,-1.4,-2.6,-1.5,-2.5,-1.3,-2.3,-1.4,-2.5,-1.6,-2.7,-1.4,-2.1,-1.3,-2.4,-1.5,-2.2,-1.2,-2.0,-1.5,-2.3,-1.4,-2.5,-1.2,-2.2,-0.9,-2.6,-1.2,-2.2,-0.9,-2.4,-0.9,-2.3,-1.1,-2.5,-1.3,-2.0,-1.4,-2.1,-1.1,-2.4,-1.4,-2.2,-1.0,-2.5,-1.5,-1.9,-1.0,-2.2,-1.0,-2.4,-1.1,-2.2,-1.3,-2.4,-1.2,-2.3,-1.5,-2.1,-1.3,-2.4,-1.2,-2.6,-2.2];
const hCoreHi = [0.8,1.35,0.75,1.25,0.7,1.2,0.65,1.25,0.65,1.25,0.7,1.3,0.8,1.4,0.9,1.5,1.0,1.6,1.05,1.65,1.1,1.7,1.05,1.6,1.05,1.65,1.1,1.7,1.2,1.85,1.3,1.9,1.2,1.8,1.1,1.65,1.05,1.6,1.0,1.55,0.95,1.5,0.95,1.5,0.9,1.5,0.9,1.45,0.85,1.45,0.8,1.35,0.85,1.4,0.85,1.45,0.85,1.4,0.8,1.35,0.75,1.3,0.7,1.25,0.65,1.2,0.65,1.25,0.7,1.25,0.75,1.3,0.85,1.45,1.0,1.6,1.05,1.6,1.1,1.65];
const hCoreLo = [-1.0,-1.55,-0.95,-1.5,-0.95,-1.5,-1.0,-1.6,-1.1,-1.65,-1.05,-1.6,-1.0,-1.55,-0.9,-1.5,-0.95,-1.5,-1.05,-1.6,-0.95,-1.5,-0.9,-1.45,-1.1,-1.7,-1.2,-1.75,-1.15,-1.65,-1.1,-1.65,-1.05,-1.6,-1.15,-1.7,-1.2,-1.75,-1.15,-1.7,-1.1,-1.65,-1.1,-1.6,-1.0,-1.5,-0.9,-1.4,-0.8,-1.3,-0.65,-1.2,-0.6,-1.15,-0.7,-1.25,-0.85,-1.4,-1.1,-1.6,-1.0,-1.5,-0.9,-1.4,-0.8,-1.35,-0.85,-1.4,-1.0,-1.5,-1.05,-1.55,-1.05,-1.6,-1.05,-1.55,-1.0,-1.5,-1.0,-1.5];
const hSpikes = [[0.004,3.65,-2.7],[0.033,2.8,-3.4],[0.061,3.95,-3.2],[0.088,3.3,-2.3],[0.113,3.08,-3.1],[0.182,3.98,-3.05],[0.235,4.0,-2.6],[0.308,2.9,-3.3],[0.45,2.9,-3.4],[0.478,3.3,-2.85],[0.525,3.4,-2.5],[0.54,3.4,-3.1],[0.574,3.77,-2.5],[0.59,2.6,-3.1],[0.62,3.45,-2.75],[0.635,3.67,-2.5],[0.675,3.7,-2.75],[0.689,3.2,-3.3],[0.707,3.3,-3.15],[0.84,3.4,-3.6],[0.85,3.38,-3.47],[0.875,4.5,-2.8],[0.89,3.13,-4.5]];

const highs = [aHi, bHi, cHi, dHi, eHi, fHi, gHi, hHi];
const lows = [aLo, bLo, cLo, dLo, eLo, fLo, gLo, hLo];
const coreHighs = [aCoreHi, bCoreHi, cCoreHi, dCoreHi, eCoreHi, fCoreHi, gCoreHi, hCoreHi];
const coreLows = [aCoreLo, bCoreLo, cCoreLo, dCoreLo, eCoreLo, fCoreLo, gCoreLo, hCoreLo];
const spikes = [aSpikes, bSpikes, cSpikes, dSpikes, eSpikes, fSpikes, gSpikes, hSpikes];
const yMax = [5, 5, 5.2, 5, 5, 5, 5, 5];

const colLeft = [166, 1175, 2184, 3193];
const plotW = 764;
const rowTop = [22, 1121];
const plotH = 708;
const FS = 65;

function trace(i: number) {
  const pts: [number, number][] = [];
  const hi = highs[i], lo = lows[i];
  hi.forEach((h, k) => {
    pts.push([(k + 0.25) / hi.length, h]);
    pts.push([(k + 0.75) / hi.length, lo[k]]);
  });
  return pts;
}

function core(vals: number[]) {
  return vals.map((v, k) => [0.002 + (0.994 * k) / (vals.length - 1), v]);
}

function spikeLine(i: number) {
  const pts: (number | null)[][] = [];
  spikes[i].forEach(([t, h, l]) => {
    pts.push([t, h], [t, l], [t, null]);
  });
  return pts;
}

function buildOption() {
  const grid: any[] = [], xAxis: any[] = [], yAxis: any[] = [], series: any[] = [], graphic: any[] = [];
  const tick = (len: number, w: number) => ({ show: true, inside: true, length: len, lineStyle: { color: INK, width: w } });
  const line = { show: true, onZero: false, lineStyle: { color: INK, width: 5 } };
  for (let i = 0; i < 8; i++) {
    const col = i % 4, row = i < 4 ? 0 : 1;
    const left = colLeft[col];
    const top = rowTop[row] + (i === 2 ? 3 : 0);
    const h = plotH - (i === 2 ? 3 : 0);
    grid.push({ left, top, width: plotW, height: h, show: true, borderColor: INK, borderWidth: 5, backgroundColor: "transparent", outerBoundsMode: "none" });
    const xLabel = (v: number) => {
      const s = v === 0 ? "0" : v === 1 ? "1.0" : String(v);
      return v === 1 && col === 3 ? `{pull|${s}}` : s;
    };
    xAxis.push({
      type: "value", gridIndex: i, min: 0, max: 1, interval: 0.5, z: 5,
      name: "{i|t} / s", nameLocation: "middle", nameGap: 92,
      nameTextStyle: { fontFamily: LATIN, fontSize: FS, color: INK, rich: { i: { fontFamily: LATIN, fontSize: FS, fontStyle: "italic", color: INK } } },
      axisLine: line, axisTick: { ...tick(20, 5), customValues: [xTicks[1]] }, splitLine: { show: false },
      axisLabel: {
        customValues: xTicks, fontFamily: LATIN, fontSize: FS, color: INK, margin: 22, formatter: xLabel,
        rich: { pull: { fontFamily: LATIN, fontSize: FS, color: INK, padding: [0, 10, 0, 0] } },
      },
    });
    const needsDrop = row === 0 && i !== 2;
    const yLabel = (v: number) => {
      const s = v < 0 ? "\u2212" + Math.abs(v) : String(v);
      return needsDrop && v === 5 ? `{drop|${s}}` : s;
    };
    yAxis.push({
      type: "value", gridIndex: i, min: -5, max: yMax[i], z: 5,
      name: "{i|a} / (m \u00b7 s{s|\u22122})", nameLocation: "middle", nameGap: 96, nameRotate: 90,
      nameTextStyle: { fontFamily: LATIN, fontSize: 66, color: INK, rich: { i: { fontFamily: LATIN, fontSize: 66, fontStyle: "italic", color: INK }, s: { fontFamily: LATIN, fontSize: 40, color: INK, verticalAlign: "top" } } },
      axisLine: line, axisTick: { ...tick(20, 5), customValues: yTicks }, splitLine: { show: false },
      axisLabel: {
        customValues: yTicks, fontFamily: LATIN, fontSize: FS, color: INK, margin: 24, formatter: yLabel,
        rich: { drop: { fontFamily: LATIN, fontSize: FS, color: INK, padding: [28, 0, 0, 0] } },
      },
    });
    yAxis.push({
      type: "value", gridIndex: i, min: -5, max: yMax[i], position: "right", z: 5,
      axisLine: line, axisTick: { ...tick(8, 3), customValues: [0] }, axisLabel: { show: false }, splitLine: { show: false },
    });
    [coreHighs[i], coreLows[i]].forEach((vals) => {
      series.push({
        type: "line", xAxisIndex: i, yAxisIndex: 2 * i, data: core(vals), showSymbol: false, symbol: "none",
        lineStyle: { width: 0 }, areaStyle: { color: BLUE, opacity: 1, origin: 0 }, z: 1,
      });
    });
    series.push({
      type: "line", xAxisIndex: i, yAxisIndex: 2 * i, data: trace(i), showSymbol: false, symbol: "none",
      lineStyle: { color: BLUE, width: 3.5, join: "bevel" }, z: 2,
    });
    series.push({
      type: "line", xAxisIndex: i, yAxisIndex: 2 * i, data: spikeLine(i), showSymbol: false, symbol: "none", connectNulls: false,
      lineStyle: { color: BLUE, width: 3 }, z: 3,
    });
    const cx = left + plotW / 2;
    const y0 = row === 0 ? 936 : 2034;
    graphic.push({ type: "text", x: cx, y: y0, style: { text: titlesZh[i], font: `66px "${LATIN}", "${CJK}"`, fill: INK, align: "center", verticalAlign: "middle" } });
    graphic.push({ type: "text", x: cx, y: y0 + 77, style: { text: titlesEn[i], font: `66px "${LATIN}", "${CJK}"`, fill: INK, align: "center", verticalAlign: "middle" } });
  }
  return { animation: false, backgroundColor: "#fff", grid, xAxis, yAxis, series, graphic };
}

export default function App() {
  const ref = useRef<HTMLDivElement>(null);
  useEffect(() => {
    document.body.style.margin = "0";
    const chart = echarts.init(ref.current!, undefined, { renderer: "svg" });
    chart.setOption(buildOption());
    return () => chart.dispose();
  }, []);
  return <div ref={ref} style={{ width: 3995, height: 2148 }} />;
}
